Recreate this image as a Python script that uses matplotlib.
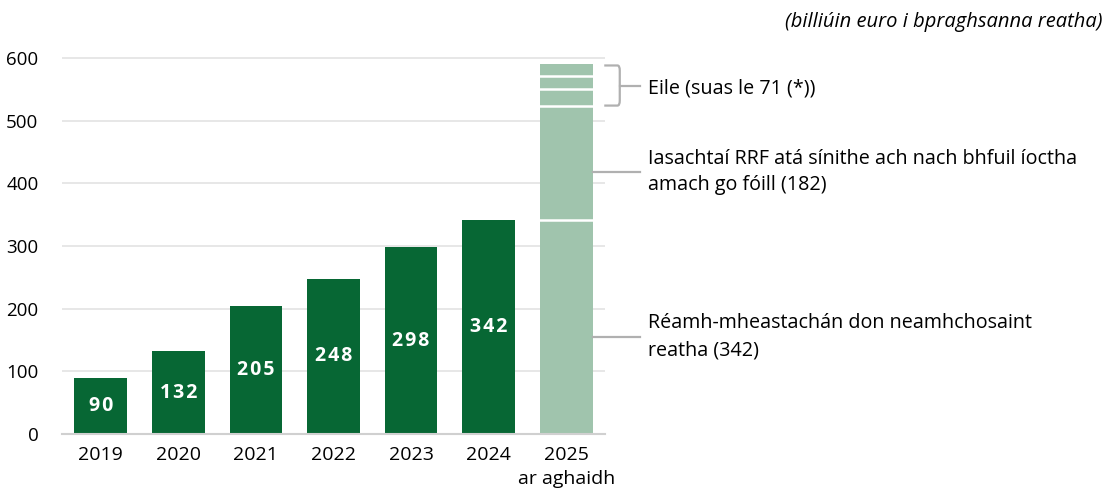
import matplotlib
matplotlib.use("Agg")
from matplotlib import pyplot as plt
from matplotlib.path import Path
from matplotlib.patches import PathPatch

plt.rcParams['font.family'] = ['Open Sans', 'DejaVu Sans']

years = ["2019", "2020", "2021", "2022", "2023", "2024", "2025\nar aghaidh"]
debt = [90, 132, 205, 248, 298, 342]
# 2025 stack: current debt estimate, RRF loans signed not yet paid, other (up to 71)
stack_2025 = [342, 182, 27, 20, 20]

dark = "#076734"
light = "#a0c4ad"
grey = "#b0b0b0"

fig = plt.figure(figsize=(11.13, 4.92), dpi=100)
ax = fig.add_axes([0.0557, 0.1179, 0.4879, 0.7898])

x = list(range(len(years)))
bars = ax.bar(x[:-1], debt, width=0.68, color=dark, zorder=3)
for rect, v in zip(bars, debt):
    # spaced out digits, like the original
    label = "\u200a".join(str(v))
    ax.text(rect.get_x() + rect.get_width() / 2, v / 2, label, ha="center", va="center",
            color="white", fontsize=14, fontweight="bold")

bottom = 0
for i, seg in enumerate(stack_2025):
    ax.bar(x[-1], seg, bottom=bottom, width=0.68, color=light, linewidth=0, zorder=3)
    if i > 0:
        ax.plot([x[-1] - 0.34, x[-1] + 0.34], [bottom, bottom], color="white", lw=1.8, zorder=4)
    bottom += seg

ax.set_xlim(-0.5, 6.5)
ax.set_ylim(0, 620)
ax.set_yticks(range(0, 601, 100))
ax.set_xticks(x)
ax.set_xticklabels(years, fontsize=14, linespacing=1.4)
ax.tick_params(axis="y", labelsize=13.5, length=0, pad=17)
ax.tick_params(axis="x", length=0, pad=9)
ax.grid(axis="y", color="#e3e3e3", linewidth=1.2, zorder=0)
for s in ["top", "right", "left"]:
    ax.spines[s].set_visible(False)
ax.spines["bottom"].set_color("#d0d0d0")
ax.spines["bottom"].set_linewidth(1.5)
ax.spines["bottom"].set_zorder(5)

# bracket for "Eile"
top, bot, mid = 588, 524, 556
verts = [(6.49, top), (6.66, top), (6.69, top), (6.69, top - 8),
         (6.69, bot + 8), (6.69, bot), (6.66, bot), (6.49, bot)]
codes = [Path.MOVETO, Path.LINETO, Path.CURVE3, Path.CURVE3,
         Path.LINETO, Path.CURVE3, Path.CURVE3, Path.LINETO]
ax.add_patch(PathPatch(Path(verts, codes), fill=False, edgecolor=grey, linewidth=1.6,
                       clip_on=False, zorder=4))
ax.plot([6.69, 6.95], [mid, mid], color=grey, lw=1.6, clip_on=False)
ax.text(7.06, mid - 4, "Eile (suas le 71 (*))", fontsize=14.2, va="center", ha="left")

ax.plot([6.34, 6.95], [418, 418], color=grey, lw=1.6, clip_on=False, zorder=4)
ax.text(7.06, 418, "Iasachtaí RRF atá sínithe ach nach bhfuil íoctha\namach go fóill (182)",
        fontsize=14.2, va="center", ha="left", linespacing=1.45)

ax.plot([6.34, 6.95], [155, 155], color=grey, lw=1.6, clip_on=False, zorder=4)
ax.text(7.06, 155, "Réamh-mheastachán don neamhchosaint\nreatha (342)",
        fontsize=14.2, va="center", ha="left", linespacing=1.45)

fig.text(0.991, 0.955, "(billiúin euro i bpraghsanna reatha)", fontsize=14.5,
         style="italic", ha="right", va="center")

fig.savefig("out.png", dpi=100)
